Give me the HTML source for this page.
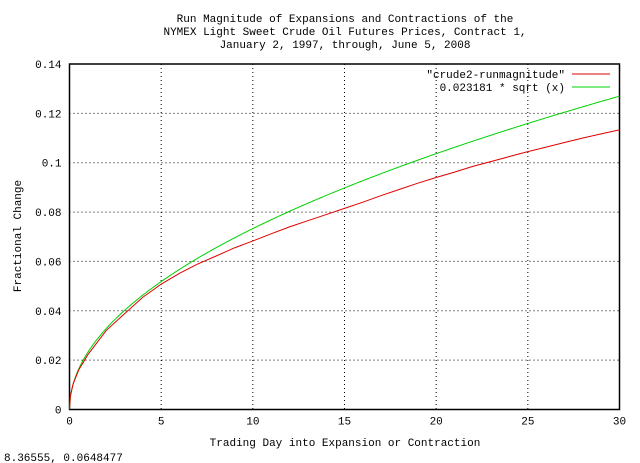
<!DOCTYPE html>
<html><head><meta charset="utf-8"><style>
body{margin:0;background:#fff;}
svg{display:block;font-family:"Liberation Mono","DejaVu Sans Mono",monospace;font-size:11px;}
</style></head><body>
<svg id="chart" width="640" height="463">
<g>
<text x="345" y="22" text-anchor="middle">Run Magnitude of Expansions and Contractions of the</text>
<text x="345" y="35" text-anchor="middle">NYMEX Light Sweet Crude Oil Futures Prices, Contract 1,</text>
<text x="345" y="48" text-anchor="middle">January 2, 1997, through, June 5, 2008</text>
</g>
<g id="grid"></g>
<g id="axes"></g>
<g id="series"></g>
<text x="345" y="446" text-anchor="middle">Trading Day into Expansion or Contraction</text>
<text x="21" y="236" text-anchor="middle" transform="rotate(-90 21 236)">Fractional Change</text>
<text x="4" y="461">8.36555,  0.0648477</text>
<g>
<text x="565" y="78" text-anchor="end">"crude2-runmagnitude"</text>
<line x1="572" y1="74" x2="610" y2="74" stroke="#e00000" stroke-width="1"/>
<text x="565" y="91" text-anchor="end">0.023181 * sqrt (x)</text>
<line x1="572" y1="87" x2="610" y2="87" stroke="#00d000" stroke-width="1"/>
</g>
</svg>
<script>
const xTicks=[0,5,10,15,20,25,30];
const yTicks=[0,0.02,0.04,0.06,0.08,0.1,0.12,0.14];
const yTickLabels=["0","0.02","0.04","0.06","0.08","0.1","0.12","0.14"];
const runDays=[0,0.05,0.2,0.5,1,2,3,4,5,6,7,8,9,10,11,12,13,14,15,16,17,18,19,20,21,22,23,24,25,26,27,28,29,30];
const runMagnitude=[0,0.0055,0.0104,0.016,0.0222,0.032,0.0388,0.0455,0.0508,0.0552,0.059,0.0622,0.0655,0.0683,0.0712,0.074,0.0765,0.079,0.0815,0.084,0.0867,0.0892,0.0917,0.094,0.0962,0.0985,0.1005,0.1025,0.1045,0.1063,0.1082,0.11,0.1117,0.1133];
const sqrtCoef=[0.023181];
const L=69.5,R=619.5,T=64,B=409.5;
const X=v=>L+(v-0)/30*(R-L);
const Y=v=>B-v/0.14*(B-T);
const NS="http://www.w3.org/2000/svg";
function mk(tag,attrs,parent){const e=document.createElementNS(NS,tag);for(const k in attrs)e.setAttribute(k,attrs[k]);parent.appendChild(e);return e;}
const grid=document.getElementById('grid'),axes=document.getElementById('axes'),series=document.getElementById('series');
xTicks.forEach((t,i)=>{
  if(i>0&&i<xTicks.length-1){const g=mk('line',{x1:X(t),x2:X(t),y1:T,y2:B,stroke:'#000','stroke-dasharray':'1,3'},grid);
  
  }
  const tx=mk('text',{x:X(t),y:B+15,'text-anchor':'middle'},axes);tx.textContent=t;
  
  
});
yTicks.forEach((t,i)=>{
  if(i>0&&i<yTicks.length-1){const g=mk('line',{x1:L,x2:R,y1:Y(t),y2:Y(t),stroke:'#000','stroke-dasharray':'1,3'},grid);
  
  }
  const tx=mk('text',{x:L-8,y:Y(t)+4,'text-anchor':'end'},axes);tx.textContent=yTickLabels[i];
  
  
});
const frame=mk('rect',{x:L,y:T,width:R-L,height:B-T,fill:'none',stroke:'#000','stroke-width':1.5},axes);


let gp=[];for(let i=0;i<=600;i++){const x=i/20;gp.push(X(x).toFixed(2)+','+Y(sqrtCoef[0]*Math.sqrt(x)).toFixed(2));}
const green=mk('polyline',{points:gp.join(' '),fill:'none',stroke:'#00d000','stroke-width':1},series);


const red=mk('polyline',{points:runDays.map((d,i)=>X(d)+','+Y(runMagnitude[i])).join(' '),fill:'none',stroke:'#e00000','stroke-width':1},series);


</script>
</body></html>
